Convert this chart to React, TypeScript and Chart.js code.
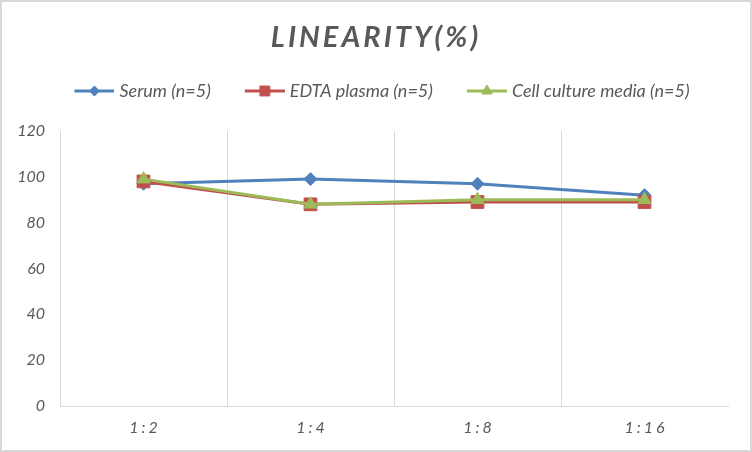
import React, { useEffect, useRef } from 'react';
import { Chart, registerables } from 'chart.js';
import { drawPoint } from 'chart.js/helpers';

Chart.register(...registerables);

// data
const dilutions = ['1:2', '1:4', '1:8', '1:16'];
const serum = [97, 99, 97, 92];
const edtaPlasma = [98, 88, 89, 89];
const cellCultureMedia = [99, 88, 90, 90];
const seriesLabels = ['Serum (n=5)', 'EDTA plasma (n=5)', 'Cell culture media (n=5)'];
const yMin = 0;
const yMax = 120;
const yStep = 20;

const FONT = 'Lato, "Open Sans", sans-serif';
const TEXT = '#595959';
const GRID = '#d9d9d9';

// small canvas with the line and marker, used as legend symbol
// (8px empty on the left so the text sits close to the line end)
function legendIcon(color: string, style: string, radius: number) {
  const c = document.createElement('canvas');
  c.width = 48;
  c.height = 16;
  const g = c.getContext('2d')!;
  g.strokeStyle = color;
  g.lineWidth = 3;
  g.beginPath();
  g.moveTo(8, 8);
  g.lineTo(48, 8);
  g.stroke();
  g.fillStyle = color;
  g.lineWidth = 1;
  drawPoint(g, { pointStyle: style, rotation: 0, radius, borderWidth: 1 } as any, 28, 8);
  return c;
}

const App: React.FC = () => {
  const chartRef = useRef<HTMLCanvasElement | null>(null);

  useEffect(() => {
    if (!chartRef.current) return;
    const ctx = chartRef.current.getContext('2d');
    if (!ctx) return;

    const colors = ['#4F81BD', '#C0504D', '#9BBB59'];
    const styles = ['rectRot', 'rect', 'triangle'];
    const radii = [6.5, 9, 7.5];
    const legendRadii = [5, 7, 6];
    const values = [serum, edtaPlasma, cellCultureMedia];

    const chart = new Chart(ctx, {
      type: 'line',
      data: {
        labels: dilutions,
        datasets: values.map((v, i) => ({
          label: seriesLabels[i],
          data: v,
          borderColor: colors[i],
          backgroundColor: colors[i],
          borderWidth: 3,
          pointStyle: styles[i],
          pointRadius: radii[i],
          pointBorderWidth: 1,
          pointBackgroundColor: colors[i],
          pointBorderColor: colors[i],
          tension: 0,
          order: 2 - i, // green drawn on top
        })),
      },
      options: {
        responsive: false,
        animation: false,
        layout: { padding: { top: 0, right: 22, bottom: 0, left: 14 } },
        plugins: {
          title: {
            display: true,
            text: 'LINEARITY(%)',
            color: TEXT,
            font: { family: FONT, size: 29, weight: 'bold', style: 'italic', lineHeight: 1.0 },
            padding: { top: 21, bottom: 0 },
          },
          legend: {
            position: 'top',
            labels: {
              usePointStyle: true,
              pointStyleWidth: 40,
              color: TEXT,
              font: { family: FONT, size: 18, style: 'italic' },
              padding: 30,
              generateLabels: () =>
                seriesLabels.map((text, i) => ({
                  text,
                  fontColor: TEXT,
                  fillStyle: colors[i],
                  strokeStyle: colors[i],
                  lineWidth: 0,
                  pointStyle: legendIcon(colors[i], styles[i], legendRadii[i]),
                  hidden: false,
                  datasetIndex: i,
                })),
            },
          },
          tooltip: { enabled: false },
        },
        scales: {
          x: {
            offset: true,
            grid: {
              offset: true,
              drawTicks: false,
              color: (c: any) => (c.type === 'tick' ? GRID : 'rgba(0,0,0,0)'),
            },
            border: { display: true, color: GRID },
            ticks: { padding: 12, color: TEXT, font: { family: FONT, size: 16, style: 'italic' } },
            afterFit: (s: any) => {
              s.height = 44;
            },
          },
          y: {
            min: yMin,
            max: yMax,
            grid: { display: false, drawTicks: false },
            border: { display: true, color: GRID },
            ticks: { stepSize: yStep, padding: 15, color: TEXT, font: { family: FONT, size: 16, style: 'italic' } },
            afterFit: (s: any) => {
              s.width = 44;
            },
          },
        },
      },
    });

    const c: any = chart;
    // wider letter spacing for the title, shifted to the centre of the frame
    const tb = c.titleBlock;
    if (tb) {
      const orig = tb.draw.bind(tb);
      tb.draw = () => {
        ctx.save();
        (ctx as any).letterSpacing = '3px';
        ctx.translate(4, 0);
        orig();
        ctx.restore();
      };
    }
    // extra room below the legend
    const lg = c.legend;
    if (lg) {
      const fit = lg.fit.bind(lg);
      lg.fit = () => {
        fit();
        lg.height += 21;
      };
      const draw = lg.draw.bind(lg);
      lg.draw = () => {
        ctx.save();
        ctx.translate(8, 0);
        draw();
        ctx.restore();
      };
    }
    // spaced category labels
    const xs = c.scales.x;
    if (xs) {
      const drawLabels = xs.drawLabels.bind(xs);
      xs.drawLabels = (area: any) => {
        ctx.save();
        (ctx as any).letterSpacing = '3px';
        ctx.translate(1.5, 0);
        drawLabels(area);
        ctx.restore();
      };
    }
    chart.update();

    return () => {
      chart.destroy();
    };
  }, []);

  return (
    <div
      style={{
        position: 'absolute',
        left: 0,
        top: 0,
        width: 752,
        height: 452,
        boxSizing: 'border-box',
        border: '2px solid #d9d9d9',
        background: '#fff',
      }}
    >
      <canvas ref={chartRef} width={748} height={448} style={{ display: 'block' }}></canvas>
    </div>
  );
};

export default App;
